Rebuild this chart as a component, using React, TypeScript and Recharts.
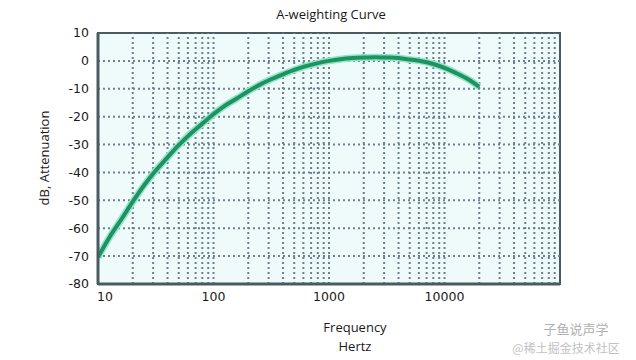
import { LineChart, Line, XAxis, YAxis, ReferenceLine, ReferenceArea } from 'recharts';

// frequencies (Hz) and attenuation (dB)
const freqs = [10, 12.5, 16, 20, 25, 31.5, 40, 50, 63, 80, 100, 125, 160, 200, 250, 315, 400, 500, 630, 800, 1000, 1250, 1600, 2000, 2500, 3150, 4000, 5000, 6300, 8000, 10000, 12500, 16000, 20000];
const dbs = [-70.4, -63.4, -56.7, -50.5, -44.7, -39.4, -34.6, -30.2, -26.2, -22.5, -19.1, -16.1, -13.4, -10.9, -8.6, -6.6, -4.8, -3.2, -1.9, -0.8, 0, 0.6, 1.0, 1.2, 1.3, 1.2, 1.0, 0.5, -0.1, -1.1, -2.5, -4.3, -6.6, -9.3];

const xTicks = [10, 100, 1000, 10000];
const yTicks = [-80, -70, -60, -50, -40, -30, -20, -10, 0, 10];
const xGrid = [20, 30, 40, 50, 60, 70, 80, 90, 100, 200, 300, 400, 500, 600, 700, 800, 900, 1000, 2000, 3000, 4000, 5000, 6000, 7000, 8000, 9000, 10000, 20000, 30000, 40000, 50000, 60000, 70000, 80000, 90000];
const yGrid = [-70, -60, -50, -40, -30, -20, -10, 0];

const data = freqs.map((f, i) => ({ f, db: dbs[i] }));

const BORDER = '#4a5a61';
const GRID = '#6c808d';
const TICK_FONT = '"DejaVu Sans", Verdana, sans-serif';
const LABEL_FONT = '"Open Sans", "Noto Sans", sans-serif';
const CJK_FONT = '"Noto Sans CJK SC", sans-serif';

const XTick = (props: any) => {
    const { x, y, payload } = props;
    const first = payload.value === 10;
    return (
        <text x={first ? x - 1 : x} y={y} dy="0.71em" textAnchor={first ? 'start' : 'middle'} fill="#1a1a1a" fontSize={12.5} fontFamily={TICK_FONT}>
            {payload.value}
        </text>
    );
};

export default function App() {
    return (
        <div style={{ position: 'absolute', left: 0, top: 0, width: 636, height: 360, background: '#fff' }}>
            <LineChart width={636} height={360} data={data} margin={{ top: 33, right: 76, bottom: 46, left: 0 }}>
                <text x={331} y={19} textAnchor="middle" fill="#1a1a1a" fontSize={13} fontFamily={LABEL_FONT}>A-weighting Curve</text>
                <text x={49} y={158} transform="rotate(-90 49 158)" textAnchor="middle" fill="#1a1a1a" fontSize={13} fontFamily={LABEL_FONT}>dB, Attenuation</text>
                <text x={355} y={332} textAnchor="middle" fill="#1a1a1a" fontSize={13} fontFamily={LABEL_FONT}>Frequency</text>
                <text x={355} y={351} textAnchor="middle" fill="#1a1a1a" fontSize={13} fontFamily={LABEL_FONT}>Hertz</text>
                <text x={576} y={334} textAnchor="middle" fill="#b0b0b0" fontSize={13} fontFamily={CJK_FONT}>子鱼说声学</text>
                <text x={566} y={353} textAnchor="middle" fill="#c2c2c2" fontSize={12} fontFamily={CJK_FONT}>@稀土掘金技术社区</text>
                <XAxis
                    dataKey="f"
                    type="number"
                    scale="log"
                    domain={[10, 100000]}
                    ticks={xTicks}
                    height={30}
                    tickSize={0}
                    tickMargin={8}
                    tick={<XTick />}
                    axisLine={{ stroke: BORDER, strokeWidth: 3 }}
                    tickLine={false}
                    allowDataOverflow
                />
                <YAxis
                    type="number"
                    domain={[-80, 10]}
                    ticks={yTicks}
                    width={98}
                    tickSize={0}
                    tickMargin={9}
                    tick={{ fill: '#1a1a1a', fontSize: 12.5, fontFamily: TICK_FONT }}
                    axisLine={{ stroke: BORDER, strokeWidth: 3 }}
                    tickLine={false}
                />
                <ReferenceArea x1={10} x2={100000} y1={-80} y2={10} fill="#effafa" fillOpacity={1} stroke={BORDER} strokeWidth={2} />
                {yGrid.map((v) => (
                    <ReferenceLine key={`h${v}`} y={v} stroke={GRID} strokeWidth={2} strokeDasharray="2 3" />
                ))}
                {xGrid.map((v) => (
                    <ReferenceLine key={`v${v}`} x={v} stroke={GRID} strokeWidth={2} strokeDasharray="2 3" />
                ))}
                <Line dataKey="db" type="monotone" stroke="#8ee8c4" strokeWidth={7} dot={false} isAnimationActive={false} />
                <Line dataKey="db" type="monotone" stroke="#1f9163" strokeWidth={4} dot={false} isAnimationActive={false} />
            </LineChart>
        </div>
    );
}
